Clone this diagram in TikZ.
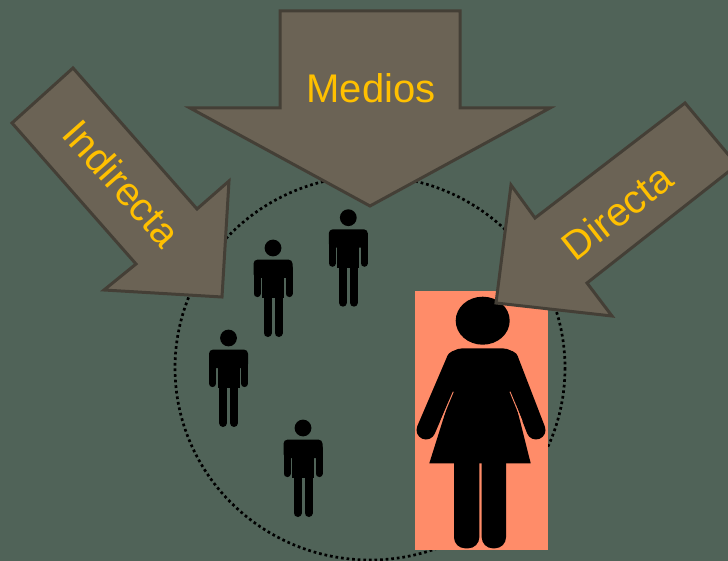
\documentclass[tikz,border=0pt]{standalone}
\usepackage{fontspec}
\setmainfont{Liberation Sans}
\definecolor{bgc}{HTML}{506358}
\definecolor{arrowfill}{HTML}{6B6355}
\definecolor{arrowedge}{HTML}{443F36}
\definecolor{labelc}{HTML}{FFC000}
\definecolor{peach}{HTML}{FF8C69}
\tikzset{
  bigarrow/.style={fill=arrowfill,draw=arrowedge,line width=3pt,miter limit=10},
  arrowlabel/.style={text=labelc,font=\fontsize{40}{48}\selectfont,inner sep=0pt,anchor=center},
  man/.pic={
    \fill[black] (0,0) circle (8.4);
    \fill[black,rounded corners=4pt] (-19.5,11.6) -- (19.5,11.6) -- (19.5,30) -- (-19.5,30) -- cycle;
    \draw[black,line width=7pt,line cap=round] (-16,20) -- (-16,45.6);
    \draw[black,line width=7pt,line cap=round] (16,20) -- (16,45.6);
    \fill[black] (-11,16) rectangle (11,50);
    \draw[black,line width=8pt,line cap=round] (-5.5,45) -- (-5.5,85);
    \draw[black,line width=8pt,line cap=round] (5.5,45) -- (5.5,85);
  },
}
\begin{document}
\begin{tikzpicture}[x=1pt,y=-1pt]
  \useasboundingbox (0,0) rectangle (728,561);
  \clip (0,0) rectangle (728,561);
  \fill[bgc] (0,0) rectangle (728,561);
  % dotted circle
  \draw[black,line width=2.7pt,dash pattern=on 2.7pt off 2.9pt] (370,368) ellipse (195 and 192);
  % coloured panel
  \fill[peach] (415,291) rectangle (548,550);
  % woman
  \fill[black] (482.7,320.7) ellipse (27 and 24);
  \fill[black,rounded corners=10pt] (444,362) -- (452,348.4) -- (513,348.4) -- (521,362) -- (510,392) -- (455,392) -- cycle;
  \draw[black,line width=19pt,line cap=round] (456,360) -- (426,430);
  \draw[black,line width=19pt,line cap=round] (509,360) -- (536,430);
  \fill[black] (454,385) -- (511,385) -- (530.7,463.3) -- (429.3,463.3) -- cycle;
  \draw[peach,line width=.9pt] (453.3,391.7) -- (441,421);
  \draw[peach,line width=.9pt] (510,391.7) -- (522,421);
  \fill[black,rounded corners=11pt] (454,445) -- (479.3,445) -- (479.3,548.3) -- (454,548.3) -- cycle;
  \fill[black,rounded corners=11pt] (481.7,445) -- (506,445) -- (506,548.3) -- (481.7,548.3) -- cycle;
  % men
  \pic at (348.3,217.7) {man};
  \pic at (273,248) {man};
  \pic at (228.5,338) {man};
  \pic at (303,428) {man};
  % arrows
  \draw[bigarrow] (280,11) -- (460,11) -- (460,108) -- (550,108) -- (370,206) -- (190,108) -- (280,108) -- cycle;
  \draw[bigarrow] (73,68) -- (197,209) -- (229,181) -- (222,297) -- (104,290) -- (136,264) -- (12,123) -- cycle;
  \draw[bigarrow] (685,103) -- (535,218) -- (511,185) -- (496,303) -- (612,316) -- (587,283) -- (737,165) -- cycle;
  % labels
  \node[arrowlabel] (medios) at (371,88) {Medios};
  \node[arrowlabel,rotate=-48.5] (indirecta) at (122,183) {Indirecta};
  \node[arrowlabel,rotate=38] (directa) at (617,212) {Directa};
\end{tikzpicture}
\end{document}
